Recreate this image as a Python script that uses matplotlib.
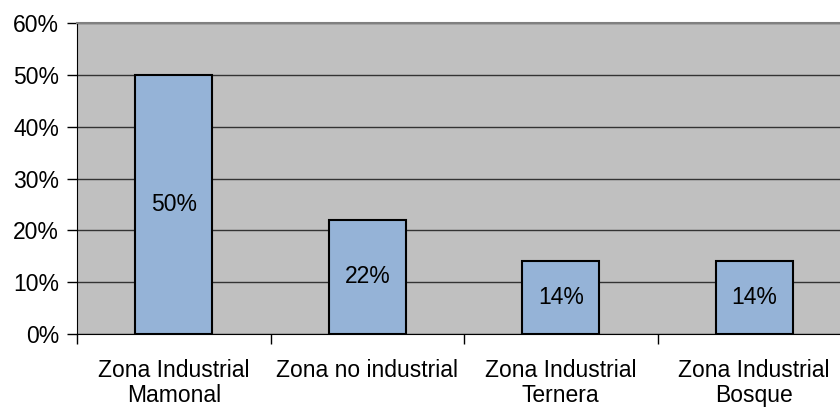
import matplotlib
matplotlib.use("Agg")
import matplotlib.pyplot as plt
from matplotlib.ticker import FuncFormatter

categories = ["Zona Industrial\nMamonal", "Zona no industrial", "Zona Industrial\nTernera", "Zona Industrial\nBosque"]
values = [50, 22, 14, 14]
yticks = [0, 10, 20, 30, 40, 50, 60]

plt.rcParams['font.family'] = ['Liberation Sans', 'DejaVu Sans']

W, H = 840, 409
fig = plt.figure(figsize=(W / 100, H / 100), dpi=100)
left, right, top, bottom = 77, 851, 23, 334
ax = fig.add_axes([left / W, 1 - bottom / H, (right - left) / W, (bottom - top) / H])
ax.set_facecolor("#C0C0C0")

fs = 16.5
x = list(range(len(categories)))
bars = ax.bar(x, values, width=0.4, color="#95B3D7", edgecolor="black", linewidth=1.5, zorder=3)
for xi, v in zip(x, values):
    ax.text(xi, v / 2, f"{v}%", ha="center", va="center", fontsize=fs, zorder=4)

ax.set_xlim(-0.5, len(categories) - 0.5)
ax.set_ylim(0, 60)
ax.set_yticks(yticks)
ax.yaxis.set_major_formatter(FuncFormatter(lambda v, p: f"{int(v)}%"))
ax.grid(axis="y", color="#333333", linewidth=1, zorder=1)
ax.set_axisbelow(True)

ax.set_xticks([i + 0.5 for i in range(-1, len(categories))])
ax.set_xticklabels([])
ax.set_xticks(x, minor=True)
ax.set_xticklabels(categories, minor=True, fontsize=fs, linespacing=1.1)
ax.tick_params(axis="x", which="minor", length=0, pad=18)
ax.tick_params(axis="x", which="major", length=7, width=1, color="black")
ax.tick_params(axis="y", length=7, width=1, labelsize=fs, pad=6)

ax.spines["top"].set_color("#808080")
ax.spines["top"].set_linewidth(1.5)
ax.spines["right"].set_visible(False)
ax.spines["left"].set_color("black")
ax.spines["bottom"].set_color("black")

fig.savefig("out.png", dpi=100)
